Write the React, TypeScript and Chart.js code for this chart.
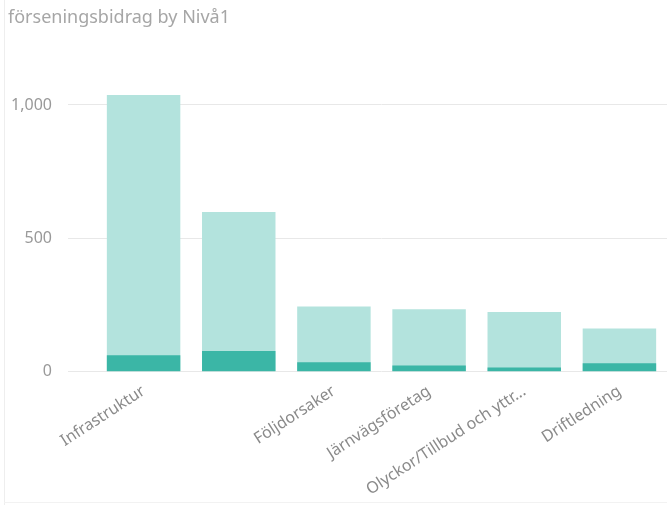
import React, { useEffect, useRef } from "react";
import { Chart, registerables } from "chart.js";

Chart.register(...registerables);

const chartTitle = "förseningsbidrag by Nivå1";
const categories = [
  "Infrastruktur",
  "",
  "Följdorsaker",
  "Järnvägsföretag",
  "Olyckor/Tillbud och yttr...",
  "Driftledning",
];
const totalValues = [1037, 599, 244, 234, 224, 162];
const subsetValues = [62, 78, 35, 23, 16, 32];
const yTickValues = [0, 500, 1000];

const FONT = "'Noto Sans', 'Open Sans', sans-serif";

export default function App() {
  const canvasRef = useRef<HTMLCanvasElement | null>(null);

  useEffect(() => {
    document.body.style.margin = "0";
    const canvas = canvasRef.current;
    if (!canvas) return;
    const chart = new Chart(canvas, {
      type: "bar",
      data: {
        labels: categories,
        datasets: [
          {
            label: "subset",
            data: subsetValues,
            backgroundColor: "#3bb6a6",
            grouped: false,
            barPercentage: 0.772,
            categoryPercentage: 1,
          } as any,
          {
            label: "total",
            data: totalValues,
            backgroundColor: "#b3e3dd",
            grouped: false,
            barPercentage: 0.772,
            categoryPercentage: 1,
          } as any,
        ],
      },
      options: {
        animation: false,
        responsive: false,
        maintainAspectRatio: false,
        layout: { padding: { top: 51.6, left: 0, right: 0, bottom: 0 } },
        plugins: {
          legend: { display: false },
          tooltip: { enabled: false },
          title: { display: false },
        },
        scales: {
          x: {
            grid: { display: false },
            border: { display: false },
            ticks: {
              autoSkip: false,
              minRotation: 33,
              maxRotation: 33,
              color: "#8a8a8a",
              font: { family: FONT, size: 16 },
              padding: 2,
            },
            afterFit: (s: any) => {
              s.height = 133.3;
            },
          },
          y: {
            min: 0,
            max: 1200,
            afterBuildTicks: (s: any) => {
              s.ticks = yTickValues.map((v) => ({ value: v }));
            },
            ticks: {
              color: "#999999",
              font: { family: FONT, size: 16 },
              padding: 16,
              callback: (v: any) => Number(v).toLocaleString("en-US"),
            },
            grid: { color: "#e8e8e8", tickLength: 28, drawTicks: true },
            border: { display: false },
            afterFit: (s: any) => {
              s.width = 96;
            },
          },
        },
      },
    });
    return () => chart.destroy();
  }, []);

  return (
    <div style={{ position: "relative", width: 667, height: 505, background: "#fff", overflow: "hidden" }}>
      <canvas ref={canvasRef} width={667} height={505} style={{ position: "absolute", left: 0, top: 0, width: 667, height: 505 }} />
      <div style={{ position: "absolute", left: 4, top: 0, width: 1, height: 505, background: "#eeeeee" }} />
      <div style={{ position: "absolute", left: 4, top: 502, width: 663, height: 1, background: "#f2f2f2" }} />
      <div
        style={{
          position: "absolute",
          left: 8,
          top: 6,
          fontFamily: FONT,
          fontSize: 18,
          lineHeight: "20px",
          color: "#a6a6a6",
          whiteSpace: "nowrap",
        }}
      >
        {chartTitle}
      </div>
    </div>
  );
}
